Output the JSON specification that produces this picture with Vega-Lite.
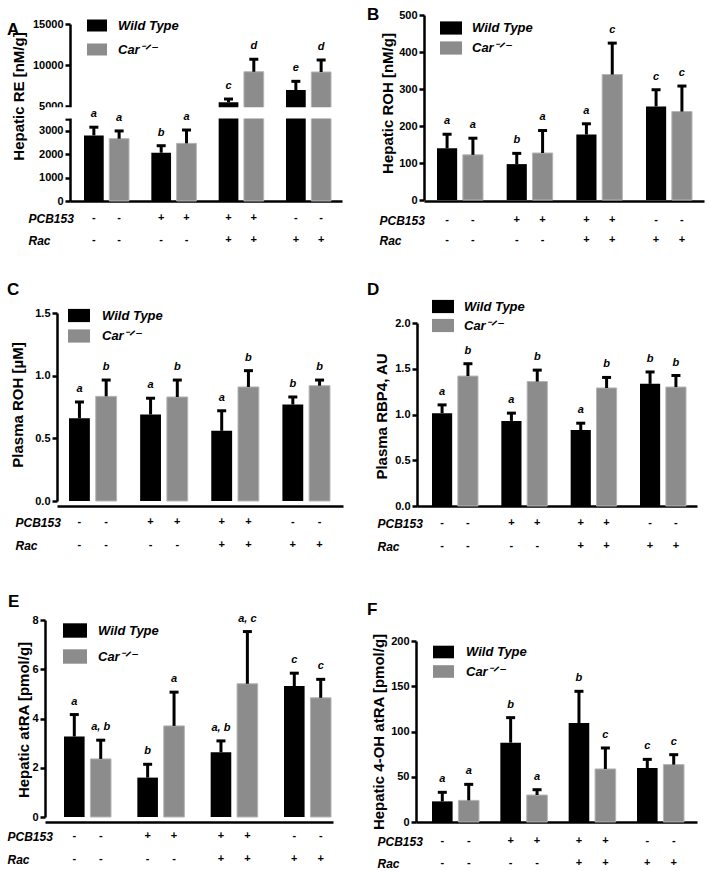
{
  "$schema": "https://vega.github.io/schema/vega-lite/v6.json",
  "padding": {"left": 7, "top": 5, "right": 5, "bottom": 0},
  "config": {
    "font": "Liberation Sans",
    "view": {"stroke": null},
    "axis": {"domainColor": "#000", "domainWidth": 2.5, "tickColor": "#000", "tickWidth": 2.5, "tickSize": 5, "labelFontWeight": "bold", "labelFontSize": 11, "labelColor": "#000", "labelPadding": 2, "labelOverlap": false, "labelFlush": false, "grid": false, "titleFontWeight": "bold", "titleFontSize": 15, "titleColor": "#000"},
    "legend": {"title": null, "orient": "none", "symbolType": "M-1,-0.6H1V0.6H-1Z", "symbolStrokeWidth": 0, "symbolOpacity": 1, "labelFontSize": 13, "labelFontWeight": "bold", "labelFontStyle": "italic", "labelColor": "#000", "padding": 0},
    "title": {"anchor": "start", "frame": "group", "offset": 0, "fontSize": 17, "fontWeight": "bold", "color": "#000", "baseline": "top"}
  },
  "datasets": {
    "bars": [
      {"panel": "A", "grp": "g1", "genotype": "Wild Type", "mean": 2800, "upper": 3150, "letter": "a"},
      {"panel": "A", "grp": "g1", "genotype": "Car-/-", "mean": 2660, "upper": 2990, "letter": "a"},
      {"panel": "A", "grp": "g2", "genotype": "Wild Type", "mean": 2060, "upper": 2360, "letter": "b"},
      {"panel": "A", "grp": "g2", "genotype": "Car-/-", "mean": 2460, "upper": 3030, "letter": "a"},
      {"panel": "A", "grp": "g3", "genotype": "Wild Type", "mean": 5450, "upper": 5850, "letter": "c"},
      {"panel": "A", "grp": "g3", "genotype": "Car-/-", "mean": 9180, "upper": 10700, "letter": "d"},
      {"panel": "A", "grp": "g4", "genotype": "Wild Type", "mean": 6950, "upper": 8010, "letter": "e"},
      {"panel": "A", "grp": "g4", "genotype": "Car-/-", "mean": 9150, "upper": 10610, "letter": "d"},
      {"panel": "B", "grp": "g1", "genotype": "Wild Type", "mean": 140, "upper": 178, "letter": "a"},
      {"panel": "B", "grp": "g1", "genotype": "Car-/-", "mean": 122, "upper": 167, "letter": "a"},
      {"panel": "B", "grp": "g2", "genotype": "Wild Type", "mean": 97, "upper": 126, "letter": "b"},
      {"panel": "B", "grp": "g2", "genotype": "Car-/-", "mean": 127, "upper": 188, "letter": "a"},
      {"panel": "B", "grp": "g3", "genotype": "Wild Type", "mean": 177, "upper": 206, "letter": "a"},
      {"panel": "B", "grp": "g3", "genotype": "Car-/-", "mean": 339, "upper": 424, "letter": "c"},
      {"panel": "B", "grp": "g4", "genotype": "Wild Type", "mean": 253, "upper": 298, "letter": "c"},
      {"panel": "B", "grp": "g4", "genotype": "Car-/-", "mean": 239, "upper": 308, "letter": "c"},
      {"panel": "C", "grp": "g1", "genotype": "Wild Type", "mean": 0.66, "upper": 0.79, "letter": "a"},
      {"panel": "C", "grp": "g1", "genotype": "Car-/-", "mean": 0.835, "upper": 0.965, "letter": "b"},
      {"panel": "C", "grp": "g2", "genotype": "Wild Type", "mean": 0.69, "upper": 0.82, "letter": "a"},
      {"panel": "C", "grp": "g2", "genotype": "Car-/-", "mean": 0.83, "upper": 0.965, "letter": "b"},
      {"panel": "C", "grp": "g3", "genotype": "Wild Type", "mean": 0.56, "upper": 0.72, "letter": "a"},
      {"panel": "C", "grp": "g3", "genotype": "Car-/-", "mean": 0.91, "upper": 1.04, "letter": "b"},
      {"panel": "C", "grp": "g4", "genotype": "Wild Type", "mean": 0.77, "upper": 0.83, "letter": "b"},
      {"panel": "C", "grp": "g4", "genotype": "Car-/-", "mean": 0.92, "upper": 0.965, "letter": "b"},
      {"panel": "D", "grp": "g1", "genotype": "Wild Type", "mean": 1.015, "upper": 1.105, "letter": "a"},
      {"panel": "D", "grp": "g1", "genotype": "Car-/-", "mean": 1.42, "upper": 1.555, "letter": "b"},
      {"panel": "D", "grp": "g2", "genotype": "Wild Type", "mean": 0.93, "upper": 1.015, "letter": "a"},
      {"panel": "D", "grp": "g2", "genotype": "Car-/-", "mean": 1.36, "upper": 1.485, "letter": "b"},
      {"panel": "D", "grp": "g3", "genotype": "Wild Type", "mean": 0.83, "upper": 0.905, "letter": "a"},
      {"panel": "D", "grp": "g3", "genotype": "Car-/-", "mean": 1.29, "upper": 1.405, "letter": "b"},
      {"panel": "D", "grp": "g4", "genotype": "Wild Type", "mean": 1.335, "upper": 1.465, "letter": "b"},
      {"panel": "D", "grp": "g4", "genotype": "Car-/-", "mean": 1.3, "upper": 1.425, "letter": "b"},
      {"panel": "E", "grp": "g1", "genotype": "Wild Type", "mean": 3.27, "upper": 4.16, "letter": "a"},
      {"panel": "E", "grp": "g1", "genotype": "Car-/-", "mean": 2.36, "upper": 3.12, "letter": "a, b"},
      {"panel": "E", "grp": "g2", "genotype": "Wild Type", "mean": 1.6, "upper": 2.14, "letter": "b"},
      {"panel": "E", "grp": "g2", "genotype": "Car-/-", "mean": 3.7, "upper": 5.07, "letter": "a"},
      {"panel": "E", "grp": "g3", "genotype": "Wild Type", "mean": 2.63, "upper": 3.09, "letter": "a, b"},
      {"panel": "E", "grp": "g3", "genotype": "Car-/-", "mean": 5.41, "upper": 7.53, "letter": "a, c"},
      {"panel": "E", "grp": "g4", "genotype": "Wild Type", "mean": 5.32, "upper": 5.84, "letter": "c"},
      {"panel": "E", "grp": "g4", "genotype": "Car-/-", "mean": 4.84, "upper": 5.59, "letter": "c"},
      {"panel": "F", "grp": "g1", "genotype": "Wild Type", "mean": 22.8, "upper": 32.8, "letter": "a"},
      {"panel": "F", "grp": "g1", "genotype": "Car-/-", "mean": 23.9, "upper": 41.6, "letter": "a"},
      {"panel": "F", "grp": "g2", "genotype": "Wild Type", "mean": 87.7, "upper": 115.3, "letter": "b"},
      {"panel": "F", "grp": "g2", "genotype": "Car-/-", "mean": 29.8, "upper": 35.7, "letter": "a"},
      {"panel": "F", "grp": "g3", "genotype": "Wild Type", "mean": 109.4, "upper": 144.4, "letter": "b"},
      {"panel": "F", "grp": "g3", "genotype": "Car-/-", "mean": 58.6, "upper": 81.8, "letter": "c"},
      {"panel": "F", "grp": "g4", "genotype": "Wild Type", "mean": 59.7, "upper": 69.2, "letter": "c"},
      {"panel": "F", "grp": "g4", "genotype": "Car-/-", "mean": 63.4, "upper": 74.4, "letter": "c"}
    ],
    "design": [
      {"grp": "g1", "genotype": "Wild Type", "row": "PCB153", "sign": "-"},
      {"grp": "g1", "genotype": "Car-/-", "row": "PCB153", "sign": "-"},
      {"grp": "g2", "genotype": "Wild Type", "row": "PCB153", "sign": "+"},
      {"grp": "g2", "genotype": "Car-/-", "row": "PCB153", "sign": "+"},
      {"grp": "g3", "genotype": "Wild Type", "row": "PCB153", "sign": "+"},
      {"grp": "g3", "genotype": "Car-/-", "row": "PCB153", "sign": "+"},
      {"grp": "g4", "genotype": "Wild Type", "row": "PCB153", "sign": "-"},
      {"grp": "g4", "genotype": "Car-/-", "row": "PCB153", "sign": "-"},
      {"grp": "g1", "genotype": "Wild Type", "row": "Rac", "sign": "-"},
      {"grp": "g1", "genotype": "Car-/-", "row": "Rac", "sign": "-"},
      {"grp": "g2", "genotype": "Wild Type", "row": "Rac", "sign": "-"},
      {"grp": "g2", "genotype": "Car-/-", "row": "Rac", "sign": "-"},
      {"grp": "g3", "genotype": "Wild Type", "row": "Rac", "sign": "+"},
      {"grp": "g3", "genotype": "Car-/-", "row": "Rac", "sign": "+"},
      {"grp": "g4", "genotype": "Wild Type", "row": "Rac", "sign": "+"},
      {"grp": "g4", "genotype": "Car-/-", "row": "Rac", "sign": "+"}
    ],
    "axisbreak": [{"lo": 3545, "hi": 4870}]
  },
  "columns": 2,
  "bounds": "flush",
  "align": "each",
  "spacing": {"row": 0, "column": 73},
  "resolve": {"scale": {"x": "independent", "y": "independent", "color": "independent", "xOffset": "independent"}, "legend": {"color": "independent"}},
  "concat": [
    {
      "width": 298, "height": 186,
      "title": {"text": "A", "dx": -38, "dy": 27.5},
      "layer": [
        {"data": {"name": "bars"}, "transform": [{"filter": "datum.panel == 'A'"}],
         "mark": {"type": "bar", "strokeWidth": 1},
         "encoding": {
           "x": {"field": "grp", "type": "nominal", "scale": {"type": "band", "range": [25, 297], "paddingInner": 0.3317, "paddingOuter": 0.1856, "align": 0.56}, "axis": {"labels": false, "ticks": false, "title": null}},
           "xOffset": {"field": "genotype", "type": "nominal", "scale": {"type": "band", "domain": ["Wild Type", "Car-/-"], "paddingInner": 0.22, "paddingOuter": 0}},
           "y": {"field": "mean", "type": "quantitative", "scale": {"domain": [0, 3500, 5000, 15000], "range": [186, 104, 91, 9], "nice": false, "zero": false}, "axis": {"values": [0, 1000, 2000, 3000, 3500, 5000, 10000, 15000], "tickCount": 50, "format": "d", "labelOverlap": false, "labelExpr": "datum.value == 3500 ? '' : datum.label", "offset": -25, "title": "Hepatic RE [nM/g]", "titleX": -52, "titleY": 81, "titleAngle": 270, "titleAlign": "center", "titleBaseline": "middle"}},
           "color": {"field": "genotype", "type": "nominal", "scale": {"domain": ["Wild Type", "Car-/-"], "range": ["#000000", "#8c8c8c"]}, "legend": {"legendX": 42, "legendY": 0.5, "symbolSize": 400, "rowPadding": 7, "labelOffset": 11, "labelExpr": "datum.label == 'Car-/-' ? 'Car⁻ᐟ⁻' : datum.label"}},
           "stroke": {"condition": {"test": "datum.genotype == 'Car-/-'", "value": "#b4b4b4"}, "value": null}
         }},
        {"data": {"name": "bars"}, "transform": [{"filter": "datum.panel == 'A'"}],
         "mark": {"type": "rule", "strokeWidth": 3, "color": "#000"},
         "encoding": {
           "x": {"field": "grp", "type": "nominal"},
           "xOffset": {"field": "genotype", "type": "nominal"},
           "y": {"field": "mean", "type": "quantitative"}, "y2": {"field": "upper"}}},
        {"data": {"name": "bars"}, "transform": [{"filter": "datum.panel == 'A'"}],
         "mark": {"type": "tick", "thickness": 3, "size": 9, "color": "#000", "opacity": 1},
         "encoding": {
           "x": {"field": "grp", "type": "nominal"},
           "xOffset": {"field": "genotype", "type": "nominal"},
           "y": {"field": "upper", "type": "quantitative"}}},
        {"data": {"name": "axisbreak"},
         "mark": {"type": "rect", "color": "#ffffff"},
         "encoding": {"y": {"field": "lo", "type": "quantitative"}, "y2": {"field": "hi"}}},
        {"data": {"name": "bars"}, "transform": [{"filter": "datum.panel == 'A'"}],
         "mark": {"type": "text", "dy": -13, "fontSize": 11, "fontWeight": "bold", "fontStyle": "italic", "baseline": "middle", "color": "#000"},
         "encoding": {
           "x": {"field": "grp", "type": "nominal"},
           "xOffset": {"field": "genotype", "type": "nominal"},
           "y": {"field": "upper", "type": "quantitative"}, "text": {"field": "letter"}}}
      ]
    },
    {
      "width": 288, "height": 186,
      "data": {"name": "bars"},
      "transform": [{"filter": "datum.panel == 'B'"}],
      "title": {"text": "B", "dx": -49, "dy": 18.5},
      "encoding": {
        "x": {"field": "grp", "type": "nominal", "scale": {"type": "band", "range": [8, 288], "paddingInner": 0.3397, "paddingOuter": 0.1794, "align": 0.52}, "axis": {"labels": false, "ticks": false, "title": null}},
        "xOffset": {"field": "genotype", "type": "nominal", "scale": {"type": "band", "domain": ["Wild Type", "Car-/-"], "paddingInner": 0.22, "paddingOuter": 0}}
      },
      "layer": [
        {"mark": {"type": "bar", "strokeWidth": 1},
         "encoding": {
           "y": {"field": "mean", "type": "quantitative", "scale": {"domain": [0, 500], "range": [185, 0], "nice": false}, "axis": {"values": [0, 100, 200, 300, 400, 500], "tickCount": 50, "format": "d", "labelOverlap": false, "offset": -8, "title": "Hepatic ROH [nM/g]", "titleX": -37, "titleY": 88, "titleAngle": 270, "titleAlign": "center", "titleBaseline": "middle"}},
           "color": {"field": "genotype", "type": "nominal", "scale": {"domain": ["Wild Type", "Car-/-"], "range": ["#000000", "#8c8c8c"]}, "legend": {"legendX": 24, "legendY": 2, "symbolSize": 484, "rowPadding": 2, "labelOffset": 10, "labelExpr": "datum.label == 'Car-/-' ? 'Car⁻ᐟ⁻' : datum.label"}},
           "stroke": {"condition": {"test": "datum.genotype == 'Car-/-'", "value": "#b4b4b4"}, "value": null}
         }},
        {"mark": {"type": "rule", "strokeWidth": 3, "color": "#000"}, "encoding": {"y": {"field": "mean", "type": "quantitative"}, "y2": {"field": "upper"}}},
        {"mark": {"type": "tick", "thickness": 3, "size": 9, "color": "#000", "opacity": 1}, "encoding": {"y": {"field": "upper", "type": "quantitative"}}},
        {"mark": {"type": "text", "dy": -13, "fontSize": 11, "fontWeight": "bold", "fontStyle": "italic", "baseline": "middle", "color": "#000"}, "encoding": {"y": {"field": "upper", "type": "quantitative"}, "text": {"field": "letter"}}}
      ]
    },
    {
      "width": 298, "height": 112,
      "data": {"name": "design"},
      "mark": {"type": "text", "fontSize": 11, "fontWeight": "bold", "color": "#000"},
      "encoding": {
        "x": {"field": "grp", "type": "nominal", "scale": {"type": "band", "range": [25, 297], "paddingInner": 0.3317, "paddingOuter": 0.1856, "align": 0.56}, "axis": null},
        "xOffset": {"field": "genotype", "type": "nominal", "scale": {"type": "band", "domain": ["Wild Type", "Car-/-"], "paddingInner": 0.22, "paddingOuter": 0}},
        "y": {"field": "row", "type": "nominal", "scale": {"type": "point", "domain": ["PCB153", "Rac"], "range": [17, 39], "padding": 0}, "axis": {"domain": false, "ticks": false, "tickSize": 0, "labelAlign": "left", "labelPadding": 17, "labelFontStyle": "italic", "labelFontSize": 12, "title": null}},
        "text": {"field": "sign"}
      }
    },
    {
      "width": 288, "height": 112,
      "data": {"name": "design"},
      "mark": {"type": "text", "fontSize": 11, "fontWeight": "bold", "color": "#000"},
      "encoding": {
        "x": {"field": "grp", "type": "nominal", "scale": {"type": "band", "range": [8, 288], "paddingInner": 0.3397, "paddingOuter": 0.1794, "align": 0.52}, "axis": null},
        "xOffset": {"field": "genotype", "type": "nominal", "scale": {"type": "band", "domain": ["Wild Type", "Car-/-"], "paddingInner": 0.22, "paddingOuter": 0}},
        "y": {"field": "row", "type": "nominal", "scale": {"type": "point", "domain": ["PCB153", "Rac"], "range": [19, 39], "padding": 0}, "axis": {"domain": false, "ticks": false, "tickSize": 0, "labelAlign": "left", "labelPadding": 37, "labelFontStyle": "italic", "labelFontSize": 12, "title": null}},
        "text": {"field": "sign"}
      }
    },
    {
      "width": 298, "height": 193,
      "data": {"name": "bars"},
      "transform": [{"filter": "datum.panel == 'C'"}],
      "title": {"text": "C", "dx": -38, "dy": -1.5},
      "encoding": {
        "x": {"field": "grp", "type": "nominal", "scale": {"type": "band", "range": [12, 298], "paddingInner": 0.331, "paddingOuter": 0.176, "align": 0.48}, "axis": {"labels": false, "ticks": false, "title": null}},
        "xOffset": {"field": "genotype", "type": "nominal", "scale": {"type": "band", "domain": ["Wild Type", "Car-/-"], "paddingInner": 0.22, "paddingOuter": 0}}
      },
      "layer": [
        {"mark": {"type": "bar", "strokeWidth": 1},
         "encoding": {
           "y": {"field": "mean", "type": "quantitative", "scale": {"domain": [0, 1.5], "range": [188, 0], "nice": false}, "axis": {"values": [0, 0.5, 1, 1.5], "tickCount": 50, "format": ".1f", "labelOverlap": false, "offset": -12, "title": "Plasma ROH [µM]", "titleX": -40, "titleY": 91.5, "titleAngle": 270, "titleAlign": "center", "titleBaseline": "middle"}},
           "color": {"field": "genotype", "type": "nominal", "scale": {"domain": ["Wild Type", "Car-/-"], "range": ["#000000", "#8c8c8c"]}, "legend": {"legendX": 23, "legendY": -8.5, "symbolSize": 484, "rowPadding": 2.5, "labelOffset": 12, "labelExpr": "datum.label == 'Car-/-' ? 'Car⁻ᐟ⁻' : datum.label"}},
           "stroke": {"condition": {"test": "datum.genotype == 'Car-/-'", "value": "#b4b4b4"}, "value": null}
         }},
        {"mark": {"type": "rule", "strokeWidth": 3, "color": "#000"}, "encoding": {"y": {"field": "mean", "type": "quantitative"}, "y2": {"field": "upper"}}},
        {"mark": {"type": "tick", "thickness": 3, "size": 9, "color": "#000", "opacity": 1}, "encoding": {"y": {"field": "upper", "type": "quantitative"}}},
        {"mark": {"type": "text", "dy": -13, "fontSize": 11, "fontWeight": "bold", "fontStyle": "italic", "baseline": "middle", "color": "#000"}, "encoding": {"y": {"field": "upper", "type": "quantitative"}, "text": {"field": "letter"}}}
      ]
    },
    {
      "width": 288, "height": 193,
      "data": {"name": "bars"},
      "transform": [{"filter": "datum.panel == 'D'"}],
      "title": {"text": "D", "dx": -49, "dy": 7.5},
      "encoding": {
        "x": {"field": "grp", "type": "nominal", "scale": {"type": "band", "range": [1, 281], "paddingInner": 0.3365, "paddingOuter": 0.1875, "align": 0.577}, "axis": {"labels": false, "ticks": false, "title": null}},
        "xOffset": {"field": "genotype", "type": "nominal", "scale": {"type": "band", "domain": ["Wild Type", "Car-/-"], "paddingInner": 0.22, "paddingOuter": 0}}
      },
      "layer": [
        {"mark": {"type": "bar", "strokeWidth": 1},
         "encoding": {
           "y": {"field": "mean", "type": "quantitative", "scale": {"domain": [0, 2], "range": [193, 10], "nice": false}, "axis": {"values": [0, 0.5, 1, 1.5, 2], "tickCount": 50, "format": ".1f", "labelOverlap": false, "offset": -1, "title": "Plasma RBP4, AU", "titleX": -35.5, "titleY": 103, "titleAngle": 270, "titleAlign": "center", "titleBaseline": "middle"}},
           "color": {"field": "genotype", "type": "nominal", "scale": {"domain": ["Wild Type", "Car-/-"], "range": ["#000000", "#8c8c8c"]}, "legend": {"legendX": 16, "legendY": -17.5, "symbolSize": 484, "rowPadding": 1, "labelOffset": 10, "labelExpr": "datum.label == 'Car-/-' ? 'Car⁻ᐟ⁻' : datum.label"}},
           "stroke": {"condition": {"test": "datum.genotype == 'Car-/-'", "value": "#b4b4b4"}, "value": null}
         }},
        {"mark": {"type": "rule", "strokeWidth": 3, "color": "#000"}, "encoding": {"y": {"field": "mean", "type": "quantitative"}, "y2": {"field": "upper"}}},
        {"mark": {"type": "tick", "thickness": 3, "size": 9, "color": "#000", "opacity": 1}, "encoding": {"y": {"field": "upper", "type": "quantitative"}}},
        {"mark": {"type": "text", "dy": -13, "fontSize": 11, "fontWeight": "bold", "fontStyle": "italic", "baseline": "middle", "color": "#000"}, "encoding": {"y": {"field": "upper", "type": "quantitative"}, "text": {"field": "letter"}}}
      ]
    },
    {
      "width": 298, "height": 114,
      "data": {"name": "design"},
      "mark": {"type": "text", "fontSize": 11, "fontWeight": "bold", "color": "#000"},
      "encoding": {
        "x": {"field": "grp", "type": "nominal", "scale": {"type": "band", "range": [12, 298], "paddingInner": 0.331, "paddingOuter": 0.176, "align": 0.48}, "axis": null},
        "xOffset": {"field": "genotype", "type": "nominal", "scale": {"type": "band", "domain": ["Wild Type", "Car-/-"], "paddingInner": 0.22, "paddingOuter": 0}},
        "y": {"field": "row", "type": "nominal", "scale": {"type": "point", "domain": ["PCB153", "Rac"], "range": [16, 39], "padding": 0}, "axis": {"domain": false, "ticks": false, "tickSize": 0, "labelAlign": "left", "labelPadding": 30, "labelFontStyle": "italic", "labelFontSize": 12, "title": null}},
        "text": {"field": "sign"}
      }
    },
    {
      "width": 288, "height": 114,
      "data": {"name": "design"},
      "mark": {"type": "text", "fontSize": 11, "fontWeight": "bold", "color": "#000"},
      "encoding": {
        "x": {"field": "grp", "type": "nominal", "scale": {"type": "band", "range": [1, 281], "paddingInner": 0.3365, "paddingOuter": 0.1875, "align": 0.577}, "axis": null},
        "xOffset": {"field": "genotype", "type": "nominal", "scale": {"type": "band", "domain": ["Wild Type", "Car-/-"], "paddingInner": 0.22, "paddingOuter": 0}},
        "y": {"field": "row", "type": "nominal", "scale": {"type": "point", "domain": ["PCB153", "Rac"], "range": [17, 40], "padding": 0}, "axis": {"domain": false, "ticks": false, "tickSize": 0, "labelAlign": "left", "labelPadding": 39, "labelFontStyle": "italic", "labelFontSize": 12, "title": null}},
        "text": {"field": "sign"}
      }
    },
    {
      "width": 298, "height": 202,
      "data": {"name": "bars"},
      "transform": [{"filter": "datum.panel == 'E'"}],
      "title": {"text": "E", "dx": -37, "dy": 2},
      "encoding": {
        "x": {"field": "grp", "type": "nominal", "scale": {"type": "band", "range": [0, 288], "paddingInner": 0.359, "paddingOuter": 0.1432, "align": 0.905}, "axis": {"labels": false, "ticks": false, "title": null}},
        "xOffset": {"field": "genotype", "type": "nominal", "scale": {"type": "band", "domain": ["Wild Type", "Car-/-"], "paddingInner": 0.22, "paddingOuter": 0}}
      },
      "layer": [
        {"mark": {"type": "bar", "strokeWidth": 1},
         "encoding": {
           "y": {"field": "mean", "type": "quantitative", "scale": {"domain": [0, 8], "range": [197, 0], "nice": false}, "axis": {"values": [0, 2, 4, 6, 8], "tickCount": 50, "format": "d", "labelOverlap": false, "title": "Hepatic atRA [pmol/g]", "titleX": -22, "titleY": 99.5, "titleAngle": 270, "titleAlign": "center", "titleBaseline": "middle"}},
           "color": {"field": "genotype", "type": "nominal", "scale": {"domain": ["Wild Type", "Car-/-"], "range": ["#000000", "#8c8c8c"]}, "legend": {"legendX": 18, "legendY": -1.5, "symbolSize": 576, "rowPadding": 6, "labelOffset": 11, "labelExpr": "datum.label == 'Car-/-' ? 'Car⁻ᐟ⁻' : datum.label"}},
           "stroke": {"condition": {"test": "datum.genotype == 'Car-/-'", "value": "#b4b4b4"}, "value": null}
         }},
        {"mark": {"type": "rule", "strokeWidth": 3, "color": "#000"}, "encoding": {"y": {"field": "mean", "type": "quantitative"}, "y2": {"field": "upper"}}},
        {"mark": {"type": "tick", "thickness": 3, "size": 9, "color": "#000", "opacity": 1}, "encoding": {"y": {"field": "upper", "type": "quantitative"}}},
        {"mark": {"type": "text", "dy": -13, "fontSize": 11, "fontWeight": "bold", "fontStyle": "italic", "baseline": "middle", "color": "#000"}, "encoding": {"y": {"field": "upper", "type": "quantitative"}, "text": {"field": "letter"}}}
      ]
    },
    {
      "width": 288, "height": 202,
      "data": {"name": "bars"},
      "transform": [{"filter": "datum.panel == 'F'"}],
      "title": {"text": "F", "dx": -49, "dy": 3},
      "encoding": {
        "x": {"field": "grp", "type": "nominal", "scale": {"type": "band", "range": [0, 281], "paddingInner": 0.312, "paddingOuter": 0.2122, "align": 0.552}, "axis": {"labels": false, "ticks": false, "title": null}},
        "xOffset": {"field": "genotype", "type": "nominal", "scale": {"type": "band", "domain": ["Wild Type", "Car-/-"], "paddingInner": 0.22, "paddingOuter": 0}}
      },
      "layer": [
        {"mark": {"type": "bar", "strokeWidth": 1},
         "encoding": {
           "y": {"field": "mean", "type": "quantitative", "scale": {"domain": [0, 200], "range": [202, 21], "nice": false}, "axis": {"values": [0, 50, 100, 150, 200], "tickCount": 50, "format": "d", "labelOverlap": false, "title": "Hepatic 4-OH atRA [pmol/g]", "titleX": -38, "titleY": 111.5, "titleAngle": 270, "titleAlign": "center", "titleBaseline": "middle"}},
           "color": {"field": "genotype", "type": "nominal", "scale": {"domain": ["Wild Type", "Car-/-"], "range": ["#000000", "#8c8c8c"]}, "legend": {"legendX": 17, "legendY": 21.5, "symbolSize": 441, "rowPadding": 1.5, "labelOffset": 12, "labelExpr": "datum.label == 'Car-/-' ? 'Car⁻ᐟ⁻' : datum.label"}},
           "stroke": {"condition": {"test": "datum.genotype == 'Car-/-'", "value": "#b4b4b4"}, "value": null}
         }},
        {"mark": {"type": "rule", "strokeWidth": 3, "color": "#000"}, "encoding": {"y": {"field": "mean", "type": "quantitative"}, "y2": {"field": "upper"}}},
        {"mark": {"type": "tick", "thickness": 3, "size": 9, "color": "#000", "opacity": 1}, "encoding": {"y": {"field": "upper", "type": "quantitative"}}},
        {"mark": {"type": "text", "dy": -13, "fontSize": 11, "fontWeight": "bold", "fontStyle": "italic", "baseline": "middle", "color": "#000"}, "encoding": {"y": {"field": "upper", "type": "quantitative"}, "text": {"field": "letter"}}}
      ]
    },
    {
      "width": 298, "height": 50,
      "data": {"name": "design"},
      "mark": {"type": "text", "fontSize": 11, "fontWeight": "bold", "color": "#000"},
      "encoding": {
        "x": {"field": "grp", "type": "nominal", "scale": {"type": "band", "range": [0, 288], "paddingInner": 0.359, "paddingOuter": 0.1432, "align": 0.905}, "axis": null},
        "xOffset": {"field": "genotype", "type": "nominal", "scale": {"type": "band", "domain": ["Wild Type", "Car-/-"], "paddingInner": 0.22, "paddingOuter": 0}},
        "y": {"field": "row", "type": "nominal", "scale": {"type": "point", "domain": ["PCB153", "Rac"], "range": [14, 37], "padding": 0}, "axis": {"domain": false, "ticks": false, "tickSize": 0, "labelAlign": "left", "labelPadding": 38, "labelFontStyle": "italic", "labelFontSize": 12, "title": null}},
        "text": {"field": "sign"}
      }
    },
    {
      "width": 288, "height": 50,
      "data": {"name": "design"},
      "mark": {"type": "text", "fontSize": 11, "fontWeight": "bold", "color": "#000"},
      "encoding": {
        "x": {"field": "grp", "type": "nominal", "scale": {"type": "band", "range": [0, 281], "paddingInner": 0.312, "paddingOuter": 0.2122, "align": 0.552}, "axis": null},
        "xOffset": {"field": "genotype", "type": "nominal", "scale": {"type": "band", "domain": ["Wild Type", "Car-/-"], "paddingInner": 0.22, "paddingOuter": 0}},
        "y": {"field": "row", "type": "nominal", "scale": {"type": "point", "domain": ["PCB153", "Rac"], "range": [19, 41], "padding": 0}, "axis": {"domain": false, "ticks": false, "tickSize": 0, "labelAlign": "left", "labelPadding": 39, "labelFontStyle": "italic", "labelFontSize": 12, "title": null}},
        "text": {"field": "sign"}
      }
    }
  ]
}
